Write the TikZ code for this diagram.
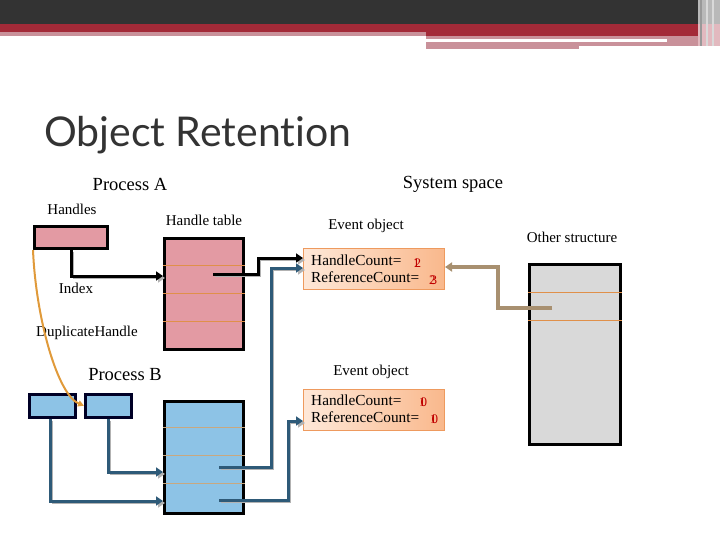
\documentclass[tikz,border=0pt]{standalone}
\usepackage{fontspec}
\setmainfont{Liberation Serif}
\newfontfamily\titlefont[Ligatures=NoCommon]{Lato}
\usetikzlibrary{arrows.meta,calc}
\definecolor{dark}{HTML}{333333}
\definecolor{hred}{HTML}{A32A38}
\definecolor{hpink}{HTML}{C9919A}
\definecolor{hlight}{HTML}{E2B9BF}
\definecolor{pinkfill}{HTML}{E39AA3}
\definecolor{bluefill}{HTML}{8DC3E6}
\definecolor{grayfill}{HTML}{D9D9D9}
\definecolor{sepor}{HTML}{E0904A}
\definecolor{septan}{HTML}{C8A880}
\definecolor{tealc}{HTML}{2E5A78}
\definecolor{tanc}{HTML}{A89070}
\definecolor{evtop}{HTML}{FEE8D8}
\definecolor{evbot}{HTML}{F9B88C}
\definecolor{evborder}{HTML}{EE9A5E}
\definecolor{numred}{HTML}{C00000}
\definecolor{curvec}{HTML}{E09A3A}
\tikzset{
  lbl/.style={inner sep=0pt, font=\fontsize{15}{17}\selectfont},
  biglbl/.style={inner sep=0pt, font=\fontsize{18.5}{20}\selectfont},
  pinkbox/.style={draw=black, line width=3pt, fill=pinkfill, inner sep=0pt, anchor=north west},
  bluebox/.style={draw=black!85!blue, line width=2.5pt, fill=bluefill, inner sep=0pt, anchor=north west},
  graybox/.style={draw=black, line width=3pt, fill=grayfill, inner sep=0pt, anchor=north west},
  evbox/.style={draw=evborder, line width=1pt, left color=evtop, right color=evbot, inner sep=0pt, anchor=north west},
  evtext/.style={inner sep=0pt, anchor=west, font=\fontsize{15.3}{16}\selectfont},
  num/.style={inner sep=0pt, text=numred, font=\fontsize{13}{14}\selectfont},
  shadowed/.style={preaction={draw=gray!60, transform canvas={shift={(2pt,-2pt)}}}},
  tip/.style={-{Triangle[length=7pt,width=9pt]}},
  blkconn/.style={draw=black, line width=3pt, shadowed, tip},
  tealconn/.style={draw=tealc, line width=3pt, shadowed, tip},
  tanconn/.style={draw=tanc, line width=3.5pt, tip},
}
\newcommand{\ovl}[2]{\rlap{#1}\kern1.5pt #2}
\begin{document}
\begin{tikzpicture}[x=1pt,y=-1pt]
\useasboundingbox (0,0) rectangle (720,540);
% header
\fill[dark] (0,0) rectangle (720,24);
\fill[hred] (0,24) rectangle (720,32);
\fill[hpink] (0,32) rectangle (426,36);
\fill[hred] (426,32) rectangle (698,36);
\fill[hpink] (426,36) rectangle (698,39);
\fill[hpink] (426,42) rectangle (579,49);
\fill[hpink] (579,42) rectangle (698,46);
\fill[hpink] (667,36) rectangle (698,46);
\fill[gray!55] (698,0) rectangle (720,24);
\fill[hlight] (698,24) rectangle (720,46);
\fill[gray!80] (700,0) rectangle (702,46);
\fill[gray!30] (706,0) rectangle (708,46);
\fill[white!70!gray] (712,0) rectangle (714,46);
% title
\node[anchor=base west, inner sep=0pt, text=dark, font=\titlefont\fontsize{41}{48}\selectfont] (title) at (44,147) {Object Retention};
% labels
\node[biglbl] (procA) at (130,184) {Process A};
\node[biglbl] (sys) at (453,184) {System space};
\node[lbl] (handles) at (72,209) {Handles};
\node[lbl] (htable) at (204,220) {Handle table};
\node[lbl] (ev1l) at (366,226) {Event object};
\node[lbl] (other) at (572,237) {Other structure};
\node[lbl] (index) at (76,288) {Index};
\node[lbl] (dup) at (87,333) {DuplicateHandle};
\node[biglbl] (procB) at (125,375) {Process B};
\node[lbl] (ev2l) at (371,372) {Event object};
% boxes
\node[pinkbox, minimum width=73pt, minimum height=22pt] (hA) at (33,225) {};
\node[pinkbox, minimum width=79pt, minimum height=111pt] (tA) at (163,237) {};
\node[graybox, minimum width=91pt, minimum height=180pt] (os) at (528,263) {};
\node[bluebox, minimum width=46pt, minimum height=23pt] (b1) at (28,393) {};
\node[bluebox, minimum width=46pt, minimum height=23pt] (b2) at (84,393) {};
\node[pinkbox, fill=bluefill, minimum width=79pt, minimum height=112pt] (tB) at (163,400) {};
\node[evbox, minimum width=141pt, minimum height=41pt] (ev1) at (303,248) {};
\node[evbox, minimum width=141pt, minimum height=41pt] (ev2) at (303,389) {};
% separators
\foreach \yy in {265,293,321} \draw[sepor, line width=1pt] (tA.west |- 0,\yy) -- (tA.east |- 0,\yy);
\foreach \yy in {292,320} \draw[sepor, line width=1pt] (os.west |- 0,\yy) -- (os.east |- 0,\yy);
\foreach \yy in {427,455,483} \draw[septan, line width=1pt] (tB.west |- 0,\yy) -- (tB.east |- 0,\yy);
% event texts
\node[evtext] (ev1h) at (311,260) {HandleCount=};
\node[evtext] (ev1r) at (311,277) {ReferenceCount=};
\node[num] (n1) at (417,263) {\ovl{1}{2}};
\node[num] (n2) at (433,280) {\ovl{2}{3}};
\node[evtext] (ev2h) at (311,400) {HandleCount=};
\node[evtext] (ev2r) at (311,417) {ReferenceCount=};
\node[num] (n3) at (423,402) {\ovl{1}{0}};
\node[num] (n4) at (434,419) {\ovl{1}{0}};
% connectors
\coordinate (tAs) at (213,274);
\coordinate (oss) at (552,308);
\coordinate (tBs1) at (219,467);
\coordinate (tBs2) at (219,500);
\draw[blkconn] (71,0 |- hA.south) |- (tA.west |- 0,276);
\draw[blkconn] (tAs) -- (258,274) |- (ev1.west |- 0,258);
\draw[tanconn] (oss) -- (498,308) |- (ev1.east |- 0,267);
\draw[tealconn] (b2.south) |- (tB.west |- 0,472);
\draw[tealconn] (50,0 |- b1.south) |- (tB.west |- 0,501);
\draw[tealconn] (tBs1) -- (271,467) |- (ev1.west |- 0,268);
\draw[tealconn] (tBs2) -- (288,500) |- (ev2.west |- 0,421);
\draw[curvec, line width=2pt, -{Triangle[length=6pt,width=6pt]}] (hA.south west) .. controls (36,320) and (58,395) .. (b2.west);
\end{tikzpicture}
\end{document}
